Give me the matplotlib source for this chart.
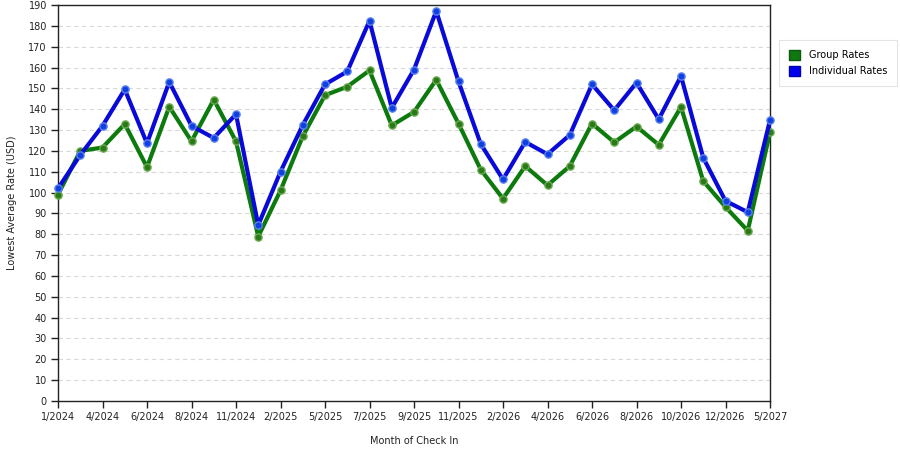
import matplotlib
matplotlib.use("Agg")
import matplotlib.pyplot as plt
from matplotlib.patches import Patch

tick_labels = ["1/2024", "4/2024", "6/2024", "8/2024", "11/2024", "2/2025", "5/2025",
               "7/2025", "9/2025", "11/2025", "2/2026", "4/2026", "6/2026", "8/2026",
               "10/2026", "12/2026", "5/2027"]

group_rates = [99, 120, 121.6, 132.9, 112.2, 141.2, 124.6, 144.6, 124.6, 78.9, 101,
               127, 146.7, 150.8, 158.6, 132.2, 138.7, 154.1, 133.1, 111, 97.1,
               112.7, 103.5, 112.7, 133.1, 124.1, 131.7, 122.9, 141.1, 105.5, 93.1,
               81.7, 128.9]
individual_rates = [102, 118, 132, 149.5, 123.6, 153.1, 132, 126.2, 137.6, 84.4, 110,
                    132.4, 151.9, 158.1, 182.4, 140.6, 159, 187.1, 153.3, 123.3, 106.3,
                    124.3, 118.4, 127.6, 151.9, 139.5, 152.7, 135.2, 155.9, 116.7, 96,
                    90.6, 134.8]

plt.rcParams['font.family'] = ['DejaVu Sans']

fig = plt.figure(figsize=(9, 4.5), dpi=100)
ax = fig.add_axes([58/900, 1 - 401/450, 712/900, 396/450])

x = list(range(len(group_rates)))
green = '#0c7a0c'
blue = '#0a0ad8'
ax.plot(x, group_rates, color=green, lw=3, marker='o', ms=5.2,
        markerfacecolor='#2a7a1a', markeredgecolor='#6aaa50', markeredgewidth=1,
        zorder=3, clip_on=False)
ax.plot(x, individual_rates, color=blue, lw=3, marker='o', ms=5.2,
        markerfacecolor='#1040e0', markeredgecolor='#5a80f0', markeredgewidth=1,
        zorder=4, clip_on=False)

ax.set_xlim(0, len(x) - 1)
ax.set_ylim(0, 190)
ax.set_yticks(range(0, 191, 10))
ax.set_xticks(list(range(0, len(x), 2)))
ax.set_xticklabels(tick_labels)
ax.tick_params(axis='both', labelsize=7, length=5, width=1, color='#222222', direction='out',
               pad=3, labelcolor='#222222')
ax.yaxis.grid(True, linestyle=(0, (4, 3)), color='#d8d8d8', lw=0.8)
ax.set_axisbelow(True)
for s in ax.spines.values():
    s.set_color('#222222')
    s.set_linewidth(1)

ax.set_ylabel('Lowest Average Rate (USD)', fontsize=7, color='#222222', labelpad=8)
ax.set_xlabel('Month of Check In', fontsize=7, color='#222222', labelpad=10)

handles = [Patch(facecolor='#117711', edgecolor='#0a5a0a', label='Group Rates'),
           Patch(facecolor='#0000ee', edgecolor='#0000aa', label='Individual Rates')]
leg = fig.legend(handles=handles, loc='upper left', bbox_to_anchor=(779/900, 1 - 40/450),
                 fontsize=7, frameon=True, fancybox=False, edgecolor='#dddddd',
                 handlelength=1.2, handleheight=1.2, borderpad=1.0, labelspacing=0.6,
                 handletextpad=0.9, borderaxespad=0)
leg.get_frame().set_linewidth(0.8)

fig.savefig('out.png', dpi=100)
